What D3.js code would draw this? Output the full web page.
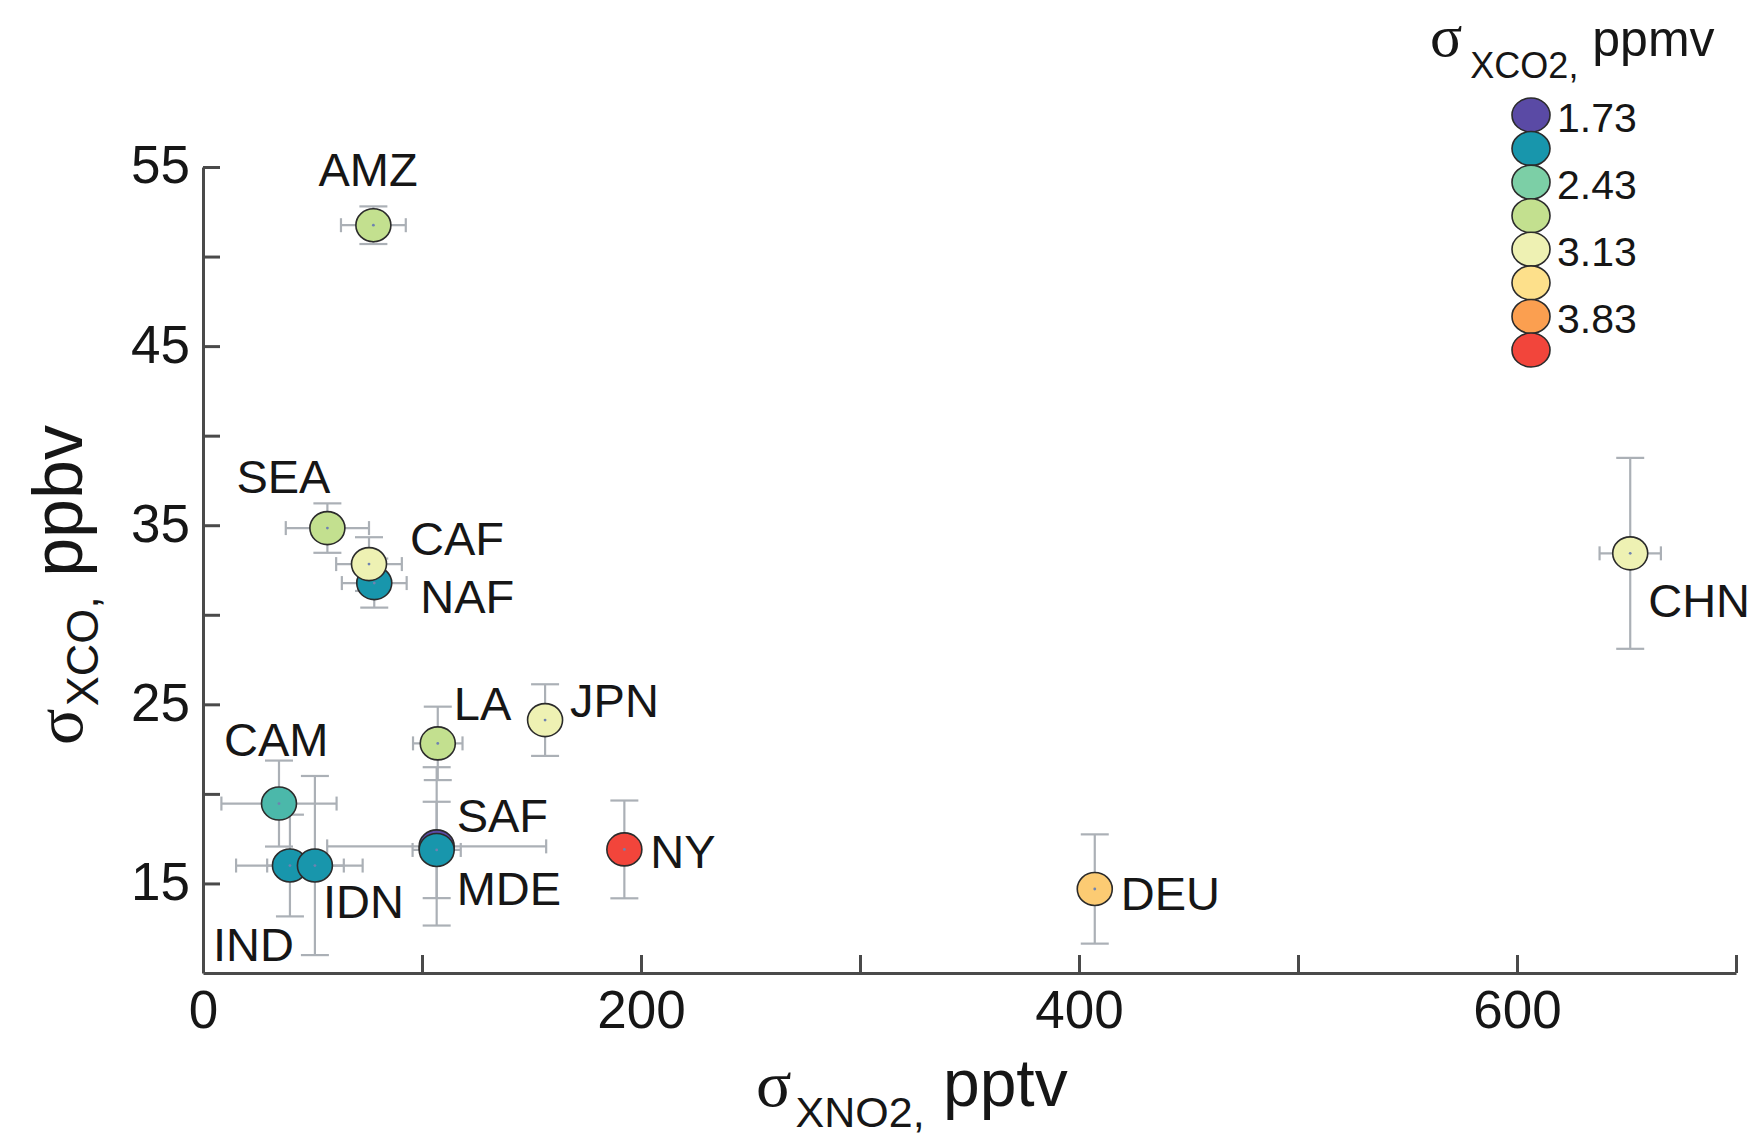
<!DOCTYPE html>
<html>
<head>
<meta charset="utf-8">
<script src="https://cdn.jsdelivr.net/npm/d3@7"></script>
<style>
  html, body { margin: 0; padding: 0; background: #ffffff; }
  svg { display: block; }
  text { font-family: "Liberation Sans", Arial, Helvetica, sans-serif; fill: #161616; }
  .serif { font-family: "Liberation Serif", "Times New Roman", serif; }
</style>
</head>
<body>
<svg id="chart" width="1757" height="1135"></svg>
<script>
// Regional variability: sigma of XNO2 (pptv) vs sigma of XCO (ppbv), coloured by sigma of XCO2 (ppmv)
// Drawing order matters where markers overlap (CAF over NAF, IDN over IND, MDE over SAF).
const regions  = ["AMZ", "SEA", "NAF", "CAF", "CAM", "IND", "IDN", "LA", "JPN", "SAF", "MDE", "NY", "DEU", "CHN"];
const sigmaNO2 = [77.8, 56.8, 78.2, 75.8, 34.7, 39.7, 51.1, 107.2, 156.2, 106.7, 106.7, 192.4, 407.2, 651.7];
const errNO2   = [14.8, 19.0, 14.8, 15.0, 26.3, 24.6, 21.8, 11.3, 5.0, 50.0, 11.0, 4.0, 4.0, 14.0];
const sigmaCO  = [51.75, 34.84, 31.77, 32.83, 19.46, 16.0, 16.0, 22.82, 24.12, 17.07, 16.87, 16.9, 14.69, 33.43];
const errCO    = [1.05, 1.38, 1.37, 1.5, 2.4, 2.84, 5.0, 2.05, 2.0, 4.42, 2.69, 2.73, 3.05, 5.33];
const sigmaCO2 = [2.78, 2.78, 2.08, 3.13, 2.28, 2.08, 2.08, 2.78, 3.13, 1.73, 2.08, 4.18, 3.6, 3.13];

// Colour key
const keyValues = [1.73, 2.08, 2.43, 2.78, 3.13, 3.48, 3.83, 4.18];
const keyColors = ["#5a4aa5", "#1896ac", "#7ccfa6", "#c3e08f", "#eef1b3", "#fde08b", "#fb9f50", "#f2453b"];
const keyLabels = ["1.73", "", "2.43", "", "3.13", "", "3.83", ""];

// Axis ticks
const xTicks = [0, 100, 200, 300, 400, 500, 600, 700];
const xTickLabels = ["0", "", "200", "", "400", "", "600", ""];
const yTicks = [15, 20, 25, 30, 35, 40, 45, 50, 55];
const yTickLabels = ["15", "", "25", "", "35", "", "45", "", "55"];

// Label placement relative to each marker (pixels)
const labelOffset = {
  AMZ: [-55, -39], SEA: [-91, -35], NAF: [46, 30], CAF: [41, -9], CAM: [-55, -48],
  IND: [-77, 95], IDN: [8, 52], LA: [16, -23], JPN: [25, -3], SAF: [20, -14],
  MDE: [20, 55], NY: [26, 19], DEU: [26, 21], CHN: [18, 64]
};

const svg = d3.select("#chart");
svg.append("rect").attr("width", 1757).attr("height", 1135).attr("fill", "#ffffff");

const x = d3.scaleLinear().domain([0, 700]).range([203, 1736]);
const y = d3.scaleLinear().domain([10, 55]).range([973, 167]);
const color = d3.scaleLinear().domain(keyValues).range(keyColors).interpolate(d3.interpolateHcl).clamp(true);

const data = regions.map((r, i) => ({
  name: r, x: sigmaNO2[i], xe: errNO2[i], y: sigmaCO[i], ye: errCO[i], c: sigmaCO2[i]
}));

// Axes
const axisColor = "#4a4a4a";
const xAxis = d3.axisBottom(x).tickValues(xTicks)
  .tickFormat((d, i) => xTickLabels[i]).tickSizeInner(-18).tickSizeOuter(0).tickPadding(17);
const yAxis = d3.axisLeft(y).tickValues(yTicks)
  .tickFormat((d, i) => yTickLabels[i]).tickSizeInner(-17).tickSizeOuter(0).tickPadding(13);

const gx = svg.append("g").attr("transform", "translate(0,973)").call(xAxis);
const gy = svg.append("g").attr("transform", "translate(203,0)").call(yAxis);
[gx, gy].forEach(g => {
  g.select(".domain").attr("stroke", axisColor).attr("stroke-width", 3);
  g.selectAll(".tick line").attr("stroke", axisColor).attr("stroke-width", 3);
  g.selectAll(".tick text").attr("font-size", 53).attr("fill", "#161616")
    .attr("font-family", "Liberation Sans, Arial, sans-serif");
});
gy.selectAll(".tick text").attr("dy", "0.30em");

// Error bars
const errColor = "#abb0b6";
const eb = svg.append("g").attr("stroke", errColor).attr("stroke-width", 2.2).attr("fill", "none");
data.forEach(d => {
  const cx = x(d.x), cy = y(d.y);
  const y0 = y(d.y - d.ye), y1 = y(d.y + d.ye);
  const x0 = x(d.x - d.xe), x1 = x(d.x + d.xe);
  eb.append("line").attr("x1", cx).attr("x2", cx).attr("y1", y0).attr("y2", y1);
  eb.append("line").attr("x1", cx - 14).attr("x2", cx + 14).attr("y1", y0).attr("y2", y0);
  eb.append("line").attr("x1", cx - 14).attr("x2", cx + 14).attr("y1", y1).attr("y2", y1);
  eb.append("line").attr("x1", x0).attr("x2", x1).attr("y1", cy).attr("y2", cy);
  eb.append("line").attr("x1", x0).attr("x2", x0).attr("y1", cy - 7).attr("y2", cy + 7);
  eb.append("line").attr("x1", x1).attr("x2", x1).attr("y1", cy - 7).attr("y2", cy + 7);
});

// Markers
const marks = svg.append("g");
data.forEach(d => {
  marks.append("ellipse")
    .attr("cx", x(d.x)).attr("cy", y(d.y)).attr("rx", 17.5).attr("ry", 16.5)
    .attr("fill", color(d.c)).attr("stroke", "#2b2b2b").attr("stroke-width", 1.6);
  marks.append("circle")
    .attr("cx", x(d.x)).attr("cy", y(d.y)).attr("r", 1.4).attr("fill", "#6f82b0");
});

// Region labels
svg.append("g").selectAll("text").data(data).join("text")
  .attr("x", d => x(d.x) + labelOffset[d.name][0])
  .attr("y", d => y(d.y) + labelOffset[d.name][1])
  .attr("font-size", 47)
  .text(d => d.name);

// Axis titles
const xt = svg.append("text").attr("x", 756).attr("y", 1106);
xt.append("tspan").attr("class", "serif").attr("font-size", 66).text("σ");
xt.append("tspan").attr("font-size", 43).attr("dx", 4).attr("dy", 21).text("XNO2,");
xt.append("tspan").attr("font-size", 66).attr("dy", -21).text(" pptv");

const yt = svg.append("text").attr("transform", "translate(82,745) rotate(-90)");
yt.append("tspan").attr("class", "serif").attr("font-size", 68).text("σ");
yt.append("tspan").attr("font-size", 45).attr("dx", 2).attr("dy", 16).text("XCO,");
yt.append("tspan").attr("font-size", 70).attr("dy", -16).text(" ppbv");

// Colour key
const lt = svg.append("text").attr("x", 1430).attr("y", 56);
lt.append("tspan").attr("class", "serif").attr("font-size", 60).text("σ");
lt.append("tspan").attr("font-size", 36).attr("dx", 8).attr("dy", 22).text("XCO2,");
lt.append("tspan").attr("font-size", 50).attr("dy", -22).text(" ppmv");

const keyY = d3.scaleLinear().domain([0, keyValues.length - 1]).range([115, 350]);
const key = svg.append("g");
keyValues.forEach((v, i) => {
  key.append("ellipse").attr("cx", 1531).attr("cy", keyY(i)).attr("rx", 19).attr("ry", 17)
    .attr("fill", keyColors[i]).attr("stroke", "#2b2b2b").attr("stroke-width", 1.6);
  if (keyLabels[i]) {
    key.append("text").attr("x", 1557).attr("y", keyY(i) + 17).attr("font-size", 41).text(keyLabels[i]);
  }
});
</script>
</body>
</html>
